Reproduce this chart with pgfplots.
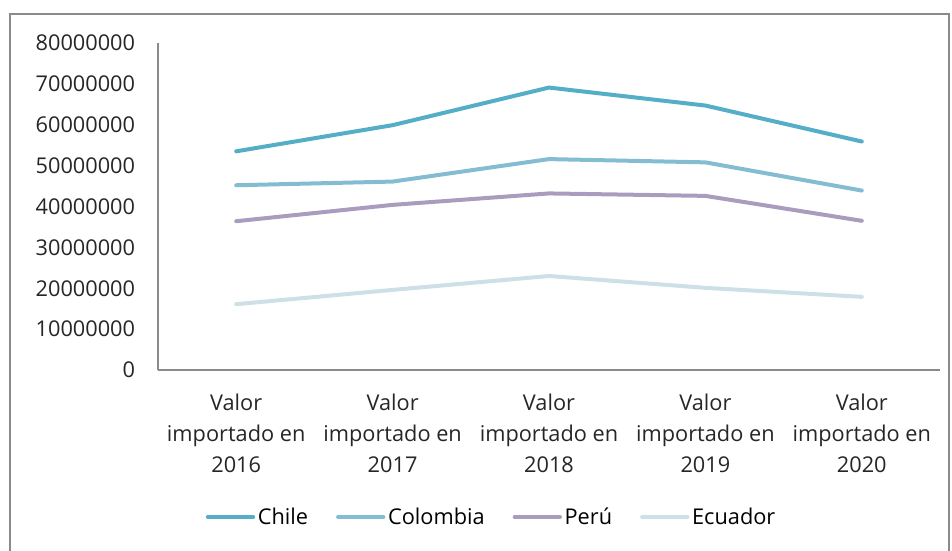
\documentclass[border=0pt]{standalone}
\usepackage{pgfplots}
\pgfplotsset{compat=1.18}
\usepackage{fontspec}
\setmainfont{Open Sans}
\definecolor{chile}{HTML}{55AEC7}
\definecolor{colombia}{HTML}{84BDD2}
\definecolor{peru}{HTML}{AA9CBF}
\definecolor{ecuador}{HTML}{CDE0E8}
\definecolor{framegray}{HTML}{8A8A8A}
\begin{document}
\begin{tikzpicture}[x=0.75pt,y=0.75pt]
\useasboundingbox (0,0) rectangle (952,550);
\draw[framegray, line width=1.1pt] (10,536) rectangle (949,-20);
\begin{axis}[
  at={(118.5pt,135pt)}, anchor=south west,
  scale only axis, width=586.5pt, height=245.25pt,
  xmin=-0.5, xmax=4.5, ymin=0, ymax=80000000,
  xtick={0,1,2,3,4},
  xticklabels={{Valor\\importado en\\2016},{Valor\\importado en\\2017},{Valor\\importado en\\2018},{Valor\\importado en\\2019},{Valor\\importado en\\2020}},
  ytick={0,10000000,20000000,30000000,40000000,50000000,60000000,70000000,80000000},
  scaled y ticks=false,
  /pgf/number format/assume math mode=true,
  yticklabel style={/pgf/number format/fixed,/pgf/number format/precision=0,/pgf/number format/1000 sep={},inner sep=0pt,xshift=-17pt},
  xticklabel style={align=center,inner sep=0pt,yshift=-18pt},
  tick label style={font=\fontsize{16.3pt}{23.3pt}\selectfont, color=black!85},
  axis x line*=bottom, axis y line*=left,
  axis line style={color=framegray, line width=0.9pt, -},
  major tick length=0pt,
  legend columns=4,
  legend style={at={(axis description cs:0.427,-0.4495)}, anchor=center, draw=none, fill=none,
    font=\fontsize{16.3pt}{20pt}\selectfont, inner sep=0pt,
    /tikz/every even column/.append style={column sep=19pt}},
  legend image code/.code={\draw[#1, line width=3pt] (0pt,0pt) -- (34pt,0pt);},
  every axis plot/.append style={line width=3pt, line join=round, line cap=round},
]
\addplot[chile] coordinates {(0,53500000) (1,59900000) (2,69100000) (3,64700000) (4,55900000)};
\addlegendentry{Chile}
\addplot[colombia] coordinates {(0,45200000) (1,46100000) (2,51600000) (3,50800000) (4,43900000)};
\addlegendentry{Colombia}
\addplot[peru] coordinates {(0,36400000) (1,40400000) (2,43200000) (3,42600000) (4,36500000)};
\addlegendentry{Perú}
\addplot[ecuador] coordinates {(0,16100000) (1,19600000) (2,23000000) (3,20100000) (4,17900000)};
\addlegendentry{Ecuador}
\end{axis}
\end{tikzpicture}
\end{document}
